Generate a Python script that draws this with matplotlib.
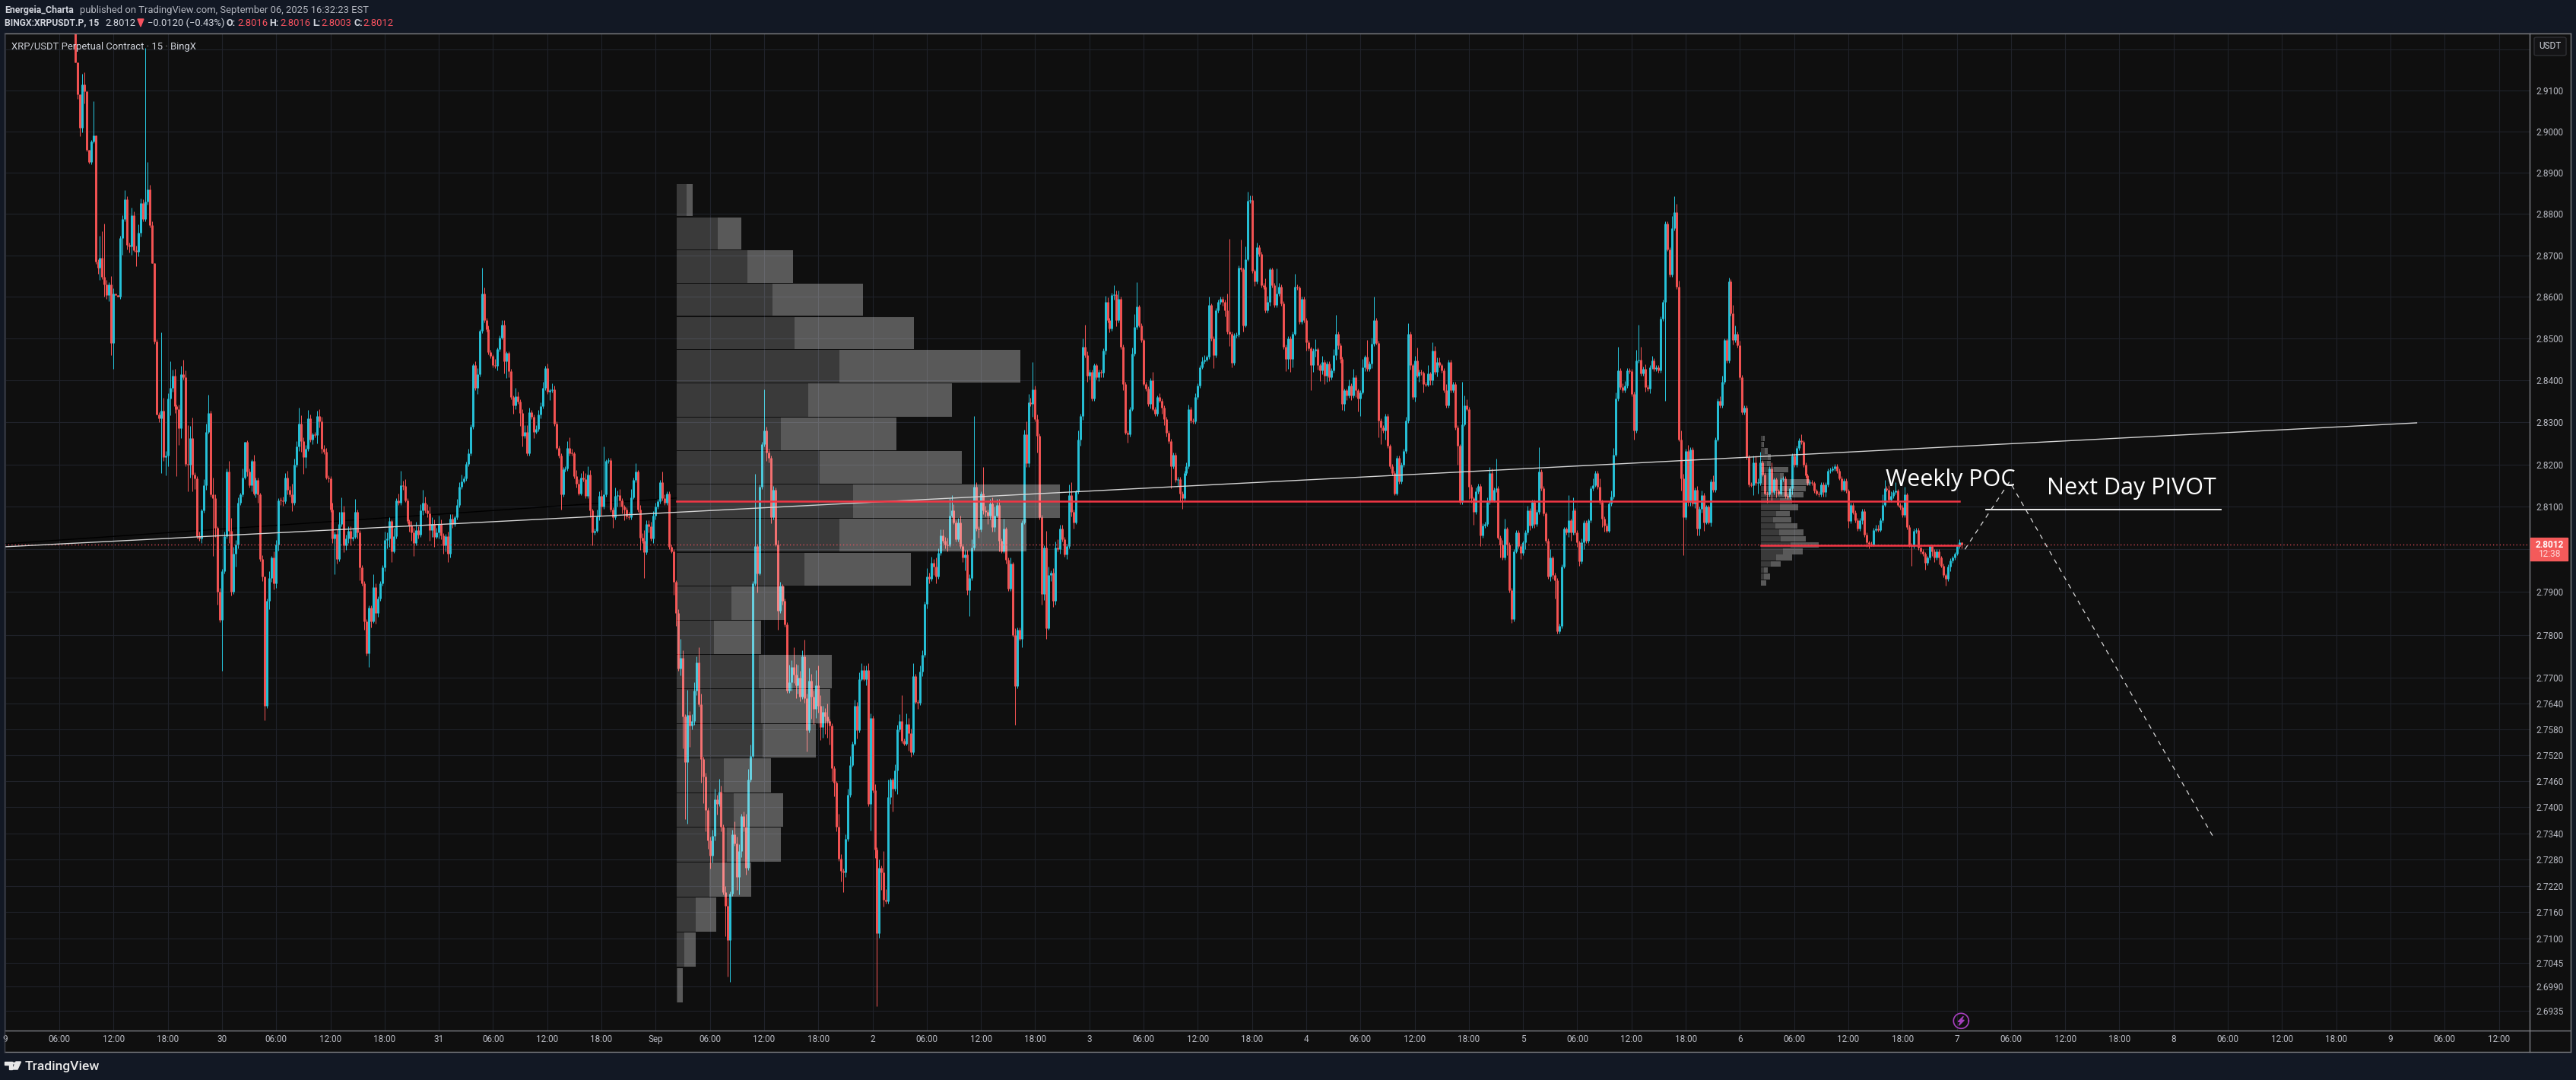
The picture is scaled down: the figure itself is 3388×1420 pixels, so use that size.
import numpy as np
import matplotlib
matplotlib.use('Agg')
import matplotlib.pyplot as plt
from matplotlib.patches import Rectangle, FancyBboxPatch, Polygon, Circle
from matplotlib.lines import Line2D
from matplotlib.ticker import FixedLocator, FixedFormatter, NullLocator

W, H = 3388, 1420

# closes by day, 15 minute bars (bars before 07:45 on the 29th are above the pane)
close_aug29 = [
    2.9168, 2.9091, 2.9009, 2.9114, 2.9099, 2.8956, 2.8926, 2.8975, 2.8991, 2.8685, 2.8670, 2.8694, 2.8648, 2.8630, 2.8605, 2.8630, 2.8490,
    2.8608, 2.8604, 2.8600, 2.8742, 2.8787, 2.8836, 2.8725, 2.8722, 2.8796, 2.8713, 2.8708, 2.8754, 2.8827, 2.8787, 2.8830, 2.8859, 2.8772, 2.8682, 2.8493, 2.8319, 2.8310, 2.8328, 2.8218, 2.8221,
    2.8357, 2.8382, 2.8411, 2.8338, 2.8332, 2.8287, 2.8414, 2.8408, 2.8202, 2.8200, 2.8262, 2.8177, 2.8167, 2.8031, 2.8025, 2.8091, 2.8151, 2.8278, 2.8322, 2.8129, 2.8120, 2.8050, 2.7901, 2.7835,
]
close_aug30 = [
    2.7949, 2.8031, 2.8183, 2.8044, 2.7901, 2.7990, 2.8012, 2.8110, 2.8129, 2.8170, 2.8253, 2.8183, 2.8151, 2.8208, 2.8132, 2.8164, 2.8129, 2.7977, 2.7936, 2.7635, 2.7879, 2.7933, 2.7980, 2.7920,
    2.8012, 2.8116, 2.8115, 2.8113, 2.8170, 2.8140, 2.8130, 2.8110, 2.8199, 2.8243, 2.8297, 2.8256, 2.8218, 2.8237, 2.8309, 2.8259, 2.8271, 2.8270, 2.8316, 2.8303, 2.8237, 2.8230, 2.8170, 2.8168,
    2.8094, 2.8025, 2.8037, 2.7977, 2.8059, 2.8088, 2.8009, 2.8025, 2.8044, 2.8025, 2.8030, 2.8088, 2.8040, 2.7958, 2.7920, 2.7832, 2.7756, 2.7863, 2.7832, 2.7911, 2.7851, 2.7885, 2.7920, 2.7958,
    2.8022, 2.8025, 2.8066, 2.7996, 2.8031, 2.8116, 2.8110, 2.8151, 2.8150, 2.8116, 2.8066, 2.8056, 2.8040, 2.8015, 2.8045, 2.8035, 2.8091, 2.8110, 2.8091, 2.8085, 2.8045, 2.8060, 2.8030, 2.8040,
]
close_aug31 = [
    2.8060, 2.8033, 2.8010, 2.8031, 2.7990, 2.8072, 2.8060, 2.8075, 2.8104, 2.8148, 2.8161, 2.8167, 2.8202, 2.8227, 2.8290, 2.8436, 2.8382, 2.8414, 2.8518, 2.8608, 2.8544, 2.8522, 2.8468, 2.8458,
    2.8436, 2.8434, 2.8474, 2.8503, 2.8534, 2.8446, 2.8465, 2.8423, 2.8360, 2.8341, 2.8363, 2.8350, 2.8322, 2.8268, 2.8278, 2.8227, 2.8325, 2.8313, 2.8278, 2.8284, 2.8319, 2.8338, 2.8382, 2.8430,
    2.8373, 2.8376, 2.8378, 2.8297, 2.8240, 2.8221, 2.8129, 2.8189, 2.8190, 2.8240, 2.8227, 2.8226, 2.8173, 2.8155, 2.8132, 2.8170, 2.8165, 2.8126, 2.8177, 2.8091, 2.8040, 2.8044, 2.8078, 2.8126,
    2.8100, 2.8129, 2.8208, 2.8211, 2.8094, 2.8075, 2.8126, 2.8127, 2.8115, 2.8100, 2.8094, 2.8078, 2.8075, 2.8123, 2.8164, 2.8183, 2.8094, 2.8028, 2.8020, 2.7993, 2.8059, 2.8055, 2.8025, 2.8080,
]
close_sep01 = [
    2.8100, 2.8113, 2.8158, 2.8120, 2.8110, 2.8132, 2.8006, 2.7996, 2.7923, 2.7850, 2.7721, 2.7746, 2.7610, 2.7505, 2.7613, 2.7589, 2.7600, 2.7669, 2.7735, 2.7638, 2.7512, 2.7470, 2.7394, 2.7324,
    2.7289, 2.7334, 2.7418, 2.7408, 2.7435, 2.7355, 2.7205, 2.7174, 2.7097, 2.7202, 2.7338, 2.7317, 2.7240, 2.7300, 2.7380, 2.7355, 2.7261, 2.7463, 2.7519, 2.7920, 2.8008, 2.7944, 2.8148, 2.8248,
    2.8280, 2.8228, 2.8216, 2.8076, 2.8140, 2.8012, 2.7856, 2.7914, 2.7880, 2.7824, 2.7669, 2.7690, 2.7725, 2.7707, 2.7683, 2.7700, 2.7655, 2.7749, 2.7652, 2.7578, 2.7693, 2.7655, 2.7627, 2.7683,
    2.7634, 2.7585, 2.7620, 2.7610, 2.7600, 2.7589, 2.7491, 2.7456, 2.7355, 2.7282, 2.7254, 2.7250, 2.7327, 2.7428, 2.7498, 2.7547, 2.7634, 2.7578, 2.7697, 2.7718, 2.7697, 2.7718, 2.7408, 2.7606,
]
close_sep02 = [
    2.7439, 2.7303, 2.7112, 2.7261, 2.7250, 2.7188, 2.7185, 2.7423, 2.7463, 2.7442, 2.7484, 2.7580, 2.7600, 2.7554, 2.7547, 2.7592, 2.7571, 2.7527, 2.7703, 2.7644, 2.7642, 2.7714, 2.7753, 2.7872,
    2.7936, 2.7930, 2.7968, 2.7960, 2.7936, 2.7992, 2.8032, 2.8020, 2.8012, 2.8010, 2.8080, 2.8092, 2.8064, 2.8024, 2.8064, 2.8008, 2.7980, 2.7988, 2.7904, 2.7932, 2.8004, 2.8148, 2.8048, 2.8047,
    2.8132, 2.8092, 2.8088, 2.8080, 2.8108, 2.8052, 2.8080, 2.8104, 2.8020, 2.7996, 2.8048, 2.7976, 2.7908, 2.7966, 2.7800, 2.7680, 2.7812, 2.7791, 2.8064, 2.8272, 2.8204, 2.8348, 2.8344, 2.8378,
    2.8308, 2.8268, 2.8076, 2.7896, 2.8004, 2.7816, 2.7940, 2.7945, 2.7880, 2.8004, 2.8000, 2.8048, 2.8024, 2.7988, 2.8008, 2.8128, 2.8088, 2.8064, 2.8136, 2.8260, 2.8316, 2.8480, 2.8460, 2.8412,
]
close_sep03 = [
    2.8420, 2.8356, 2.8436, 2.8408, 2.8420, 2.8418, 2.8472, 2.8588, 2.8544, 2.8524, 2.8604, 2.8606, 2.8544, 2.8596, 2.8480, 2.8392, 2.8276, 2.8272, 2.8332, 2.8464, 2.8528, 2.8576, 2.8532, 2.8496,
    2.8392, 2.8380, 2.8344, 2.8400, 2.8332, 2.8320, 2.8360, 2.8352, 2.8336, 2.8308, 2.8276, 2.8256, 2.8196, 2.8224, 2.8164, 2.8166, 2.8132, 2.8120, 2.8180, 2.8196, 2.8332, 2.8304, 2.8302, 2.8360,
    2.8388, 2.8432, 2.8446, 2.8450, 2.8456, 2.8580, 2.8500, 2.8460, 2.8568, 2.8588, 2.8596, 2.8588, 2.8568, 2.8516, 2.8512, 2.8442, 2.8508, 2.8509, 2.8670, 2.8666, 2.8532, 2.8691, 2.8832, 2.8834,
    2.8662, 2.8637, 2.8720, 2.8703, 2.8628, 2.8624, 2.8568, 2.8588, 2.8666, 2.8628, 2.8580, 2.8608, 2.8624, 2.8584, 2.8480, 2.8452, 2.8500, 2.8452, 2.8512, 2.8624, 2.8622, 2.8540, 2.8596, 2.8544,
]
close_sep04 = [
    2.8492, 2.8476, 2.8436, 2.8472, 2.8474, 2.8436, 2.8424, 2.8444, 2.8412, 2.8440, 2.8408, 2.8424, 2.8460, 2.8512, 2.8484, 2.8452, 2.8344, 2.8376, 2.8364, 2.8388, 2.8364, 2.8408, 2.8376, 2.8356,
    2.8372, 2.8432, 2.8456, 2.8428, 2.8440, 2.8488, 2.8544, 2.8490, 2.8304, 2.8288, 2.8280, 2.8316, 2.8244, 2.8196, 2.8180, 2.8132, 2.8216, 2.8160, 2.8200, 2.8232, 2.8304, 2.8512, 2.8436, 2.8360,
    2.8448, 2.8412, 2.8420, 2.8418, 2.8392, 2.8390, 2.8416, 2.8400, 2.8472, 2.8420, 2.8444, 2.8436, 2.8424, 2.8376, 2.8340, 2.8444, 2.8376, 2.8392, 2.8288, 2.8244, 2.8112, 2.8296, 2.8340, 2.8332,
    2.8148, 2.8120, 2.8088, 2.8136, 2.8150, 2.8032, 2.8056, 2.8060, 2.8112, 2.8180, 2.8116, 2.8140, 2.8144, 2.8028, 2.8012, 2.7980, 2.8048, 2.8012, 2.7904, 2.7836, 2.7996, 2.8040, 2.8008, 2.7992,
]
close_sep05 = [
    2.8016, 2.8040, 2.8092, 2.8056, 2.8112, 2.8060, 2.8088, 2.8184, 2.8144, 2.8084, 2.8020, 2.7936, 2.7980, 2.7940, 2.7928, 2.7808, 2.7820, 2.7960, 2.8048, 2.8040, 2.8068, 2.8040, 2.8092, 2.8040,
    2.8016, 2.7972, 2.8016, 2.8064, 2.8020, 2.8068, 2.8144, 2.8152, 2.8180, 2.8148, 2.8112, 2.8072, 2.8056, 2.8044, 2.8108, 2.8124, 2.8224, 2.8356, 2.8424, 2.8384, 2.8376, 2.8388, 2.8424, 2.8422,
    2.8368, 2.8280, 2.8448, 2.8450, 2.8416, 2.8428, 2.8384, 2.8380, 2.8432, 2.8448, 2.8428, 2.8432, 2.8424, 2.8548, 2.8588, 2.8777, 2.8715, 2.8653, 2.8765, 2.8804, 2.8624, 2.8260, 2.8168, 2.8076,
    2.8232, 2.8112, 2.8236, 2.8108, 2.8140, 2.8048, 2.8096, 2.8128, 2.8064, 2.8100, 2.8064, 2.8160, 2.8140, 2.8260, 2.8352, 2.8340, 2.8396, 2.8496, 2.8448, 2.8637, 2.8560, 2.8496, 2.8512, 2.8484,
]
close_sep06 = [
    2.8408, 2.8324, 2.8336, 2.8218, 2.8153, 2.8152, 2.8206, 2.8156, 2.8156, 2.8206, 2.8177, 2.8132, 2.8129, 2.8191, 2.8135, 2.8165, 2.8138, 2.8132, 2.8165, 2.8168, 2.8126, 2.8123, 2.8144, 2.8221,
    2.8200, 2.8239, 2.8257, 2.8253, 2.8200, 2.8174, 2.8156, 2.8159, 2.8156, 2.8138, 2.8132, 2.8130, 2.8153, 2.8135, 2.8153, 2.8185, 2.8188, 2.8191, 2.8197, 2.8185, 2.8168, 2.8141, 2.8162, 2.8138,
    2.8066, 2.8105, 2.8087, 2.8069, 2.8049, 2.8069, 2.8090, 2.8034, 2.8016, 2.8013, 2.8012, 2.8046, 2.8048, 2.8046, 2.8069, 2.8105, 2.8144, 2.8141, 2.8117, 2.8126, 2.8135, 2.8138, 2.8105, 2.8099,
    2.8081, 2.8129, 2.8052, 2.8010, 2.8007, 2.8043, 2.8046, 2.8004, 2.7995, 2.7989, 2.7968, 2.7980, 2.8007, 2.7995, 2.7980, 2.7995, 2.7980, 2.7962, 2.7939, 2.7930, 2.7959, 2.7974, 2.7980, 2.7989,
]
close_sep07 = [2.8007, 2.8016, 2.8012]

# wicks past the body, in units of 0.0001
up_aug29 = [
    0, 0, 0, 26, 30, 0, 0, 5, 83, 0, 5, 53, 65, 129, 10, 5, 20,
    12, 0, 0, 5, 10, 22, 6, 5, 20, 10, 10, 20, 10, 8, 374, 67, 11, 10, 0, 5, 5, 187, 30, 12,
    12, 64, 15, 16, 5, 10, 20, 35, 16, 92, 30, 50, 5, 5, 10, 5, 15, 20, 44, 5, 40, 10, 5, 8,
]
down_aug29 = [
    0, 12, 20, 12, 30, 5, 3, 5, 3, 5, 15, 30, 5, 30, 10, 15, 30,
    63, 0, 0, 5, 40, 5, 10, 15, 20, 5, 35, 10, 8, 5, 5, 8, 5, 0, 5, 0, 10, 130, 10, 44,
    25, 40, 8, 15, 159, 40, 25, 5, 5, 63, 30, 40, 25, 5, 5, 10, 5, 10, 5, 5, 136, 20, 30, 5,
]
up_aug30 = [
    5, 10, 8, 25, 30, 15, 10, 12, 5, 20, 0, 5, 8, 5, 15, 5, 5, 5, 10, 0, 5, 15, 5, 15,
    10, 5, 5, 10, 10, 15, 10, 25, 15, 12, 38, 20, 8, 10, 20, 10, 5, 5, 12, 15, 10, 10, 10, 5,
    5, 15, 5, 10, 30, 35, 15, 10, 10, 10, 20, 30, 5, 5, 5, 5, 5, 5, 5, 30, 10, 5, 5, 5,
    20, 15, 10, 5, 20, 5, 15, 35, 10, 15, 5, 5, 10, 10, 20, 10, 15, 30, 15, 15, 15, 15, 10, 10,
]
down_aug30 = [
    120, 5, 5, 30, 10, 5, 30, 10, 5, 5, 5, 10, 5, 15, 5, 10, 20, 5, 10, 34, 5, 20, 10, 15,
    10, 15, 10, 10, 5, 10, 5, 20, 5, 5, 10, 25, 40, 25, 5, 5, 10, 5, 20, 15, 10, 5, 5, 10,
    5, 10, 83, 10, 5, 5, 15, 10, 10, 15, 5, 5, 15, 30, 5, 20, 5, 32, 15, 5, 25, 10, 5, 5,
    10, 20, 20, 25, 5, 5, 5, 5, 10, 5, 5, 15, 20, 30, 5, 10, 5, 10, 5, 10, 25, 15, 25, 5,
]
up_aug31 = [
    20, 10, 5, 5, 10, 10, 10, 5, 15, 10, 15, 5, 5, 10, 5, 5, 10, 15, 5, 62, 15, 5, 10, 5,
    5, 15, 5, 5, 10, 10, 5, 5, 5, 5, 20, 10, 5, 10, 15, 15, 10, 5, 5, 10, 10, 10, 15, 5,
    10, 5, 15, 10, 5, 5, 5, 5, 5, 15, 25, 10, 5, 15, 10, 10, 15, 15, 20, 10, 5, 5, 15, 10,
    15, 114, 5, 5, 5, 5, 20, 10, 15, 5, 5, 5, 10, 20, 5, 20, 5, 10, 10, 25, 10, 10, 10, 10,
]
down_aug31 = [
    15, 10, 20, 15, 20, 10, 10, 5, 5, 5, 5, 5, 5, 5, 5, 5, 5, 15, 5, 5, 5, 5, 5, 5,
    5, 5, 10, 5, 5, 30, 40, 15, 5, 20, 10, 5, 30, 25, 5, 5, 5, 5, 15, 5, 5, 10, 5, 5,
    5, 20, 5, 5, 5, 5, 35, 5, 5, 5, 5, 5, 5, 10, 5, 5, 5, 5, 5, 15, 30, 5, 5, 10,
    20, 5, 5, 5, 5, 25, 5, 25, 15, 15, 25, 5, 5, 5, 5, 5, 5, 30, 5, 60, 5, 15, 5, 10,
]
up_sep01 = [
    10, 5, 5, 25, 10, 5, 5, 5, 5, 5, 10, 45, 17, 5, 59, 10, 15, 20, 15, 35, 25, 5, 10, 5,
    8, 15, 25, 10, 30, 15, 5, 15, 20, 5, 10, 30, 15, 15, 5, 10, 30, 25, 25, 5, 170, 5, 5, 5,
    98, 10, 10, 5, 10, 5, 10, 10, 5, 5, 5, 40, 15, 45, 25, 30, 15, 15, 40, 10, 30, 15, 15, 35,
    45, 25, 15, 10, 30, 5, 5, 5, 5, 30, 10, 5, 10, 15, 20, 5, 15, 10, 15, 15, 10, 10, 15, 10,
]
down_sep01 = [
    10, 5, 5, 5, 5, 5, 5, 5, 30, 30, 5, 15, 75, 132, 143, 50, 10, 10, 10, 5, 55, 60, 50, 20,
    30, 15, 10, 25, 5, 10, 5, 70, 83, 96, 5, 5, 30, 40, 15, 10, 15, 5, 5, 5, 5, 45, 5, 5,
    5, 20, 10, 15, 5, 5, 45, 5, 10, 5, 5, 5, 20, 20, 30, 20, 10, 5, 10, 50, 5, 50, 35, 20,
    15, 30, 25, 40, 40, 45, 30, 30, 10, 5, 25, 45, 10, 5, 5, 5, 5, 20, 5, 5, 5, 15, 5, 62,
]
up_sep02 = [
    5, 15, 5, 20, 5, 50, 25, 40, 5, 5, 15, 10, 15, 60, 5, 25, 15, 10, 30, 5, 5, 15, 10, 5,
    20, 10, 15, 10, 20, 10, 15, 15, 10, 15, 40, 35, 15, 5, 10, 15, 5, 10, 10, 10, 20, 168, 10, 5,
    5, 62, 10, 5, 10, 15, 20, 15, 15, 5, 25, 5, 5, 15, 5, 15, 5, 5, 5, 10, 30, 20, 10, 66,
    10, 10, 5, 5, 5, 40, 20, 5, 10, 15, 20, 10, 10, 5, 5, 25, 30, 5, 5, 20, 5, 20, 54, 10,
]
down_sep02 = [
    5, 20, 166, 10, 40, 15, 5, 5, 15, 52, 5, 54, 5, 5, 5, 5, 40, 10, 5, 5, 15, 5, 10, 5,
    10, 10, 5, 20, 15, 5, 5, 5, 10, 15, 5, 5, 5, 5, 5, 5, 10, 30, 10, 60, 5, 5, 5, 20,
    5, 10, 10, 20, 10, 10, 10, 5, 25, 5, 5, 10, 5, 5, 5, 90, 5, 5, 20, 5, 10, 10, 5, 30,
    5, 40, 5, 25, 15, 25, 5, 15, 15, 10, 5, 10, 5, 5, 10, 5, 10, 15, 5, 5, 15, 10, 5, 15,
]
up_sep03 = [
    5, 5, 5, 5, 5, 5, 5, 15, 10, 5, 5, 22, 10, 20, 5, 5, 5, 5, 5, 15, 30, 60, 5, 5,
    5, 5, 5, 5, 20, 5, 5, 10, 5, 5, 5, 5, 5, 5, 5, 5, 5, 5, 5, 10, 10, 5, 5, 10,
    5, 5, 10, 10, 5, 20, 5, 5, 5, 5, 5, 5, 5, 40, 224, 5, 5, 5, 5, 68, 5, 30, 22, 10,
    10, 5, 10, 5, 5, 5, 20, 15, 5, 5, 5, 60, 10, 5, 5, 5, 5, 5, 5, 32, 5, 5, 5, 5,
]
down_sep03 = [
    10, 5, 5, 5, 10, 10, 10, 10, 5, 10, 5, 10, 15, 5, 5, 15, 5, 20, 5, 5, 5, 5, 5, 5,
    5, 5, 5, 10, 5, 5, 5, 5, 15, 15, 10, 5, 52, 5, 5, 15, 20, 24, 5, 5, 5, 5, 5, 5,
    5, 5, 5, 5, 5, 5, 5, 30, 5, 5, 5, 10, 15, 5, 30, 10, 5, 5, 5, 5, 15, 5, 5, 5,
    5, 10, 5, 5, 5, 5, 5, 5, 10, 5, 5, 5, 5, 5, 5, 30, 25, 32, 20, 5, 5, 5, 5, 5,
]
up_sep04 = [
    5, 5, 5, 5, 25, 5, 5, 15, 5, 5, 5, 5, 15, 44, 5, 5, 5, 5, 5, 15, 5, 20, 5, 5,
    5, 20, 5, 40, 5, 15, 56, 5, 5, 5, 5, 5, 5, 5, 5, 5, 5, 5, 5, 5, 10, 24, 5, 5,
    10, 30, 5, 5, 5, 5, 20, 5, 20, 10, 10, 10, 5, 5, 15, 5, 5, 5, 5, 5, 5, 100, 25, 15,
    5, 5, 5, 10, 5, 5, 5, 5, 10, 15, 10, 5, 70, 5, 5, 10, 25, 5, 5, 5, 5, 5, 5, 5,
]
down_sep04 = [
    20, 5, 60, 15, 15, 10, 25, 10, 20, 15, 10, 5, 5, 10, 10, 10, 15, 16, 10, 5, 10, 5, 15, 30,
    40, 5, 10, 5, 5, 10, 5, 5, 40, 40, 5, 20, 5, 5, 5, 5, 5, 5, 5, 5, 5, 5, 10, 5,
    10, 5, 15, 5, 20, 5, 5, 10, 10, 5, 10, 5, 5, 5, 5, 5, 5, 5, 5, 44, 5, 5, 5, 5,
    30, 10, 30, 5, 5, 25, 5, 5, 5, 5, 5, 5, 5, 5, 32, 5, 5, 25, 5, 8, 5, 5, 5, 15,
]
up_sep05 = [
    5, 5, 10, 5, 5, 5, 5, 58, 5, 5, 5, 5, 20, 5, 5, 5, 5, 5, 5, 5, 60, 5, 30, 5,
    5, 5, 10, 5, 5, 5, 5, 15, 5, 5, 20, 5, 5, 5, 5, 15, 15, 15, 56, 5, 10, 10, 5, 5,
    5, 5, 25, 84, 30, 5, 10, 5, 5, 10, 5, 5, 5, 5, 5, 5, 5, 5, 30, 38, 20, 15, 20, 10,
    5, 15, 5, 5, 5, 10, 5, 10, 5, 5, 5, 5, 15, 5, 5, 10, 15, 5, 5, 10, 5, 20, 20, 5,
]
down_sep05 = [
    5, 15, 5, 10, 5, 10, 5, 5, 5, 5, 5, 5, 10, 10, 44, 5, 5, 5, 5, 5, 10, 20, 5, 5,
    10, 10, 5, 15, 5, 5, 5, 5, 5, 5, 5, 20, 15, 5, 5, 5, 5, 5, 5, 5, 5, 5, 5, 5,
    5, 20, 5, 5, 5, 5, 10, 5, 10, 5, 5, 5, 5, 5, 5, 236, 5, 5, 5, 5, 5, 5, 30, 90,
    5, 10, 10, 5, 10, 16, 15, 10, 20, 5, 5, 10, 5, 5, 5, 5, 5, 5, 5, 5, 5, 10, 5, 5,
]
up_sep06 = [
    10, 5, 5, 5, 5, 5, 15, 15, 10, 25, 5, 5, 5, 5, 15, 5, 5, 5, 5, 5, 5, 5, 5, 5,
    5, 5, 5, 15, 5, 5, 5, 5, 5, 5, 5, 5, 5, 5, 5, 5, 5, 5, 5, 5, 5, 5, 5, 5,
    5, 5, 5, 5, 5, 5, 5, 5, 5, 5, 5, 5, 10, 10, 5, 25, 20, 5, 10, 10, 5, 20, 5, 5,
    5, 18, 5, 5, 5, 5, 5, 5, 5, 5, 5, 5, 5, 5, 5, 5, 5, 5, 5, 5, 5, 5, 5, 5,
]
down_sep06 = [
    5, 5, 5, 5, 5, 5, 25, 5, 25, 5, 5, 5, 20, 5, 20, 5, 15, 5, 5, 5, 5, 5, 5, 15,
    5, 5, 5, 5, 5, 5, 5, 5, 5, 5, 5, 5, 5, 10, 10, 5, 5, 5, 5, 5, 5, 5, 5, 5,
    15, 5, 5, 5, 5, 5, 10, 5, 10, 10, 5, 5, 5, 5, 5, 5, 5, 5, 5, 5, 5, 5, 5, 5,
    5, 5, 5, 5, 45, 5, 5, 5, 5, 5, 15, 5, 5, 10, 10, 5, 15, 5, 5, 15, 5, 10, 5, 5,
]
up_sep07 = [5, 8, 0]
down_sep07 = [3, 5, 9]

first_open = 2.9262

# session volume profile, top row first: sell side and whole row width
vp_top = 2.8874
vp_step = 0.007996
vp_dark = [13.8, 54.7, 93.8, 125.9, 155, 214.7, 173.7, 137, 188.7, 231.9, 213.9, 168.8,
           72.7, 49.8, 107.9, 111.8, 113.6, 62, 75, 66, 42.9, 24.9, 10.7, 1]
vp_total = [21.8, 85.7, 153.8, 244.9, 311.9, 452.7, 362, 289.7, 375, 504, 460.8, 308.8,
            142.7, 111.8, 204.7, 202.8, 183.7, 124.8, 140.8, 137, 98, 52.8, 25.6, 8.8]

vp2_top = 2.8270
vp2_step = 0.00148
vp2_dark = [3, 2, 5, 9, 8, 17, 25, 38, 28, 23, 25, 25, 20, 16, 19, 24, 26, 39, 29, 20, 13, 4, 4, 0]
vp2_total = [5.4, 4, 9, 13, 13, 36, 30, 64, 59, 56, 41, 49, 38, 40, 48, 56, 59, 76, 55, 41, 26, 9, 12, 7]

price_ticks = [2.92, 2.91, 2.90, 2.89, 2.88, 2.87, 2.86, 2.85, 2.84, 2.83, 2.82, 2.81, 2.80, 2.79, 2.78, 2.77,
               2.764, 2.758, 2.752, 2.746, 2.74, 2.734, 2.728, 2.722, 2.716, 2.71, 2.7045, 2.699, 2.6935]
price_labels = [''] + ['%.4f' % p for p in price_ticks[1:]]
time_labels = ['9', '06:00', '12:00', '18:00', '30', '06:00', '12:00', '18:00', '31', '06:00', '12:00', '18:00',
               'Sep', '06:00', '12:00', '18:00', '2', '06:00', '12:00', '18:00', '3', '06:00', '12:00', '18:00',
               '4', '06:00', '12:00', '18:00', '5', '06:00', '12:00', '18:00', '6', '06:00', '12:00', '18:00',
               '7', '06:00', '12:00', '18:00', '8', '06:00', '12:00', '18:00', '9', '06:00', '12:00']

BG = '#121824'
PANE = '#0f0f0f'
GRID = '#20222a'
UP = '#26c2d9'
DOWN = '#f55353'
POC = '#f23645'
TXT = '#b8bac2'
FRAME = '#7f8085'

closes = [close_aug29, close_aug30, close_aug31, close_sep01, close_sep02, close_sep03,
          close_sep04, close_sep05, close_sep06, close_sep07]
ups = [up_aug29, up_aug30, up_aug31, up_sep01, up_sep02, up_sep03, up_sep04, up_sep05, up_sep06, up_sep07]
downs = [down_aug29, down_aug30, down_aug31, down_sep01, down_sep02, down_sep03,
         down_sep04, down_sep05, down_sep06, down_sep07]
starts = [31, 96, 192, 288, 384, 480, 576, 672, 768, 864]

idx = np.concatenate([s + np.arange(len(c)) for s, c in zip(starts, closes)])
close = np.concatenate(closes)
wick_up = np.concatenate(ups) * 0.0001
wick_down = np.concatenate(downs) * 0.0001
open_ = np.r_[first_open, close[:-1]]
t = idx * 0.25  # hours since the 29th, 00:00
body_hi = np.maximum(open_, close)
body_lo = np.minimum(open_, close)
body_hi = np.maximum(body_hi, body_lo + 0.00018)
colors = [UP if c >= o else DOWN for o, c in zip(open_, close)]

px_per_hour = 11.883


def fx(x):
    return x / W


def fy(y):
    return 1 - y / H


def label(x, y, s, **kw):
    kw.setdefault('family', 'Roboto')
    kw.setdefault('va', 'center')
    kw.setdefault('zorder', 6)
    return fig.text(fx(x), fy(y), s, **kw)


def hline_fig(x0, y0, x1, y1, color=FRAME, lw=1.0, zorder=3):
    fig.add_artist(Line2D([fx(x0), fx(x1)], [fy(y0), fy(y1)], color=color, lw=lw, zorder=zorder))


fig = plt.figure(figsize=(W / 100, H / 100), dpi=100, facecolor=BG)
fig.add_artist(Rectangle((fx(6), fy(1383)), fx(3381 - 6), (1383 - 44) / H, color=PANE, zorder=-1))

ax = fig.add_axes([fx(6), fy(1355), fx(3327 - 6), (1355 - 44) / H], facecolor=PANE)
ax.set_yscale('log')
ax.set_ylim(2.6891, 2.92397)
ax.set_xlim(-0.059, 279.4)
for s in ax.spines.values():
    s.set_visible(False)

ax.yaxis.tick_right()
ax.yaxis.set_major_locator(FixedLocator(price_ticks))
ax.yaxis.set_major_formatter(FixedFormatter(price_labels))
ax.yaxis.set_minor_locator(NullLocator())
ax.xaxis.set_major_locator(FixedLocator(np.arange(len(time_labels)) * 6.0))
ax.xaxis.set_major_formatter(FixedFormatter(time_labels))
ax.tick_params(axis='y', length=0, pad=6.3, labelsize=8.5, labelcolor=TXT)
ax.tick_params(axis='x', length=0, pad=3.8, labelsize=8.5, labelcolor=TXT)
for lab in ax.get_xticklabels() + ax.get_yticklabels():
    lab.set_family('Roboto')
ax.grid(True, color=GRID, lw=0.8)
ax.set_axisbelow(True)

# faint black trend line under the candles
ax.plot([-0.059, 74.3], [2.8013, 2.8121], color='#000000', lw=1.0, zorder=1.5)

ax.vlines(t, body_lo - wick_down, body_hi + wick_up, colors=colors, lw=0.72, zorder=2)
ax.vlines(t, body_lo, body_hi, colors=colors, lw=2.1, zorder=2.1)

# volume profiles sit on top of the candles, both are semi transparent
vp_left = 74.3
for n, (d, v) in enumerate(zip(vp_dark, vp_total)):
    top = vp_top - n * vp_step
    ax.barh(top - vp_step, d / px_per_hour, height=vp_step * 0.975, left=vp_left, align='edge',
            color='#ffffff', alpha=0.18, lw=0, zorder=3)
    ax.barh(top - vp_step, (v - d) / px_per_hour, height=vp_step * 0.975, left=vp_left + d / px_per_hour,
            align='edge', color='#ffffff', alpha=0.31, lw=0, zorder=3)

vp2_left = 194.3
for n, (d, v) in enumerate(zip(vp2_dark, vp2_total)):
    top = vp2_top - n * vp2_step
    ax.barh(top - vp2_step, d / px_per_hour, height=vp2_step * 0.9, left=vp2_left, align='edge',
            color='#ffffff', alpha=0.18, lw=0, zorder=3)
    ax.barh(top - vp2_step, (v - d) / px_per_hour, height=vp2_step * 0.9, left=vp2_left + d / px_per_hour,
            align='edge', color='#ffffff', alpha=0.31, lw=0, zorder=3)

ax.axhline(2.8012, color='#f7525f', lw=0.9, ls=(0, (1, 2.5)), zorder=3.5)
ax.plot([-0.059, 266.9], [2.8006, 2.8299], color='#d4d4d4', lw=1.0, zorder=4)
ax.plot([74.3, 216.3], [2.8114, 2.8114], color=POC, lw=1.8, zorder=4.1)
ax.plot([194.3, 216.3], [2.8010, 2.8010], color=POC, lw=1.8, zorder=4.1)
ax.plot([219.2, 245.2], [2.8094, 2.8094], color='#ffffff', lw=1.3, zorder=4)
ax.plot([216.9, 221.85, 244.3], [2.8000, 2.8160, 2.7335], color='#d8d8d8', lw=0.9,
        ls=(0, (5, 5)), zorder=4)

label(2480, 631, 'Weekly POC', fontsize=22, color='#ffffff', family='Open Sans')
label(2692, 642, 'Next Day PIVOT', fontsize=22, color='#ffffff', family='Open Sans')

# frame of the widget
hline_fig(6, 44, 3381, 44)
hline_fig(3381, 44, 3381, 1383)
hline_fig(6, 1383, 3381, 1383)
hline_fig(6, 1355, 3381, 1355)
hline_fig(3327, 44, 3327, 1383)
hline_fig(6, 44, 6, 1383, color='#434651')

# header
label(6, 13, 'Energeia_Charta', fontsize=8.9, color='#d1d4dc', fontweight='bold')
label(105, 13, 'published on TradingView.com, September 06, 2025 16:32:23 EST', fontsize=9.4, color='#b2b5be')
label(6, 30, 'BINGX:XRPUSDT.P, 15', fontsize=8.7, color='#d1d4dc', fontweight='bold')
label(138, 30, '2.8012', fontsize=9.4, color='#d1d4dc')
fig.add_artist(Polygon([[fx(181), fy(25)], [fx(189), fy(25)], [fx(185), fy(35)]], color='#f7525f', zorder=6))
label(194, 30, '\u22120.0120 (\u22120.43%)', fontsize=9.4, color='#d1d4dc')
for x0, x1, name, val in [(297, 312, 'O:', '2.8016'), (354, 368, 'H:', '2.8016'),
                          (411, 422.5, 'L:', '2.8003'), (465, 477.6, 'C:', '2.8012')]:
    label(x0, 30, name, fontsize=9.0, color='#d1d4dc', fontweight='bold')
    label(x1, 30, val, fontsize=9.4, color='#f7525f')
label(15, 61, 'XRP/USDT Perpetual Contract \u00b7 15 \u00b7 BingX', fontsize=9.4, color='#d1d4dc')

# price scale extras
fig.add_artist(FancyBboxPatch((fx(3333), fy(73)), fx(42), 24 / H, boxstyle='round,pad=0,rounding_size=0.0012',
                              fc='#141416', ec='#2e2f33', lw=1, zorder=5))
label(3354, 61, 'USDT', fontsize=8.5, color='#d1d4dc', ha='center')
fig.add_artist(Rectangle((fx(3327.5), fy(737.4)), fx(49.5), 30.4 / H, color='#f45a5a', zorder=5))
label(3353, 716, '2.8012', fontsize=8.6, color='#ffffff', ha='center', fontweight='bold')
label(3353, 729, '12:38', fontsize=8.6, color='#ffd7d7', ha='center')

# session break marker above the 7
cx, cy = 2579.3, 1342.3
fig.add_artist(Line2D([fx(cx + 10 * np.cos(a)) for a in np.linspace(0, 2 * np.pi, 60)],
                      [fy(cy + 10 * np.sin(a)) for a in np.linspace(0, 2 * np.pi, 60)],
                      color='#a63fbd', lw=1.2, zorder=6))
fig.add_artist(Polygon([[fx(cx + 3), fy(cy - 6)], [fx(cx - 4), fy(cy + 1)], [fx(cx - 0.5), fy(cy + 1)],
                        [fx(cx - 3), fy(cy + 6)], [fx(cx + 4), fy(cy - 1)], [fx(cx + 0.5), fy(cy - 1)]],
                       color='#a63fbd', zorder=6))

# footer logo
fig.add_artist(Polygon([[fx(6), fy(1396)], [fx(16), fy(1396)], [fx(16), fy(1406)], [fx(11.5), fy(1406)],
                        [fx(11.5), fy(1400)], [fx(6), fy(1400)]], color='#e8e8e8', zorder=6))
fig.add_artist(Polygon([[fx(21), fy(1396)], [fx(27.5), fy(1396)], [fx(23), fy(1406)], [fx(16.5), fy(1406)]],
                       color='#e8e8e8', zorder=6))
fig.add_artist(Circle((fx(18.3), fy(1398)), 2.0 / W, color='#e8e8e8', zorder=6))
label(33, 1402, 'TradingView', fontsize=12.6, color='#e8e8e8', fontweight='medium')

fig.savefig('out.png', dpi=100, facecolor=BG)
